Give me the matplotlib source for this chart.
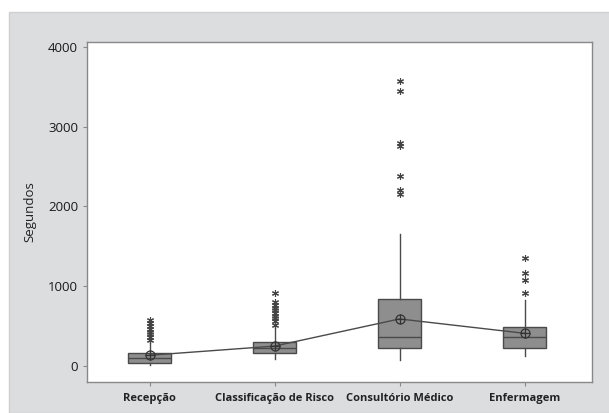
import matplotlib
matplotlib.use("Agg")
import matplotlib.pyplot as plt
from matplotlib.patches import Rectangle

plt.rcParams["font.family"] = ["Open Sans", "DejaVu Sans"]

# box statistics (seconds)
categories = ["Recepção", "Classificação de Risco", "Consultório Médico", "Enfermagem"]
q1 = [40, 160, 225, 225]
medians = [100, 230, 360, 360]
q3 = [160, 300, 840, 490]
whisker_lo = [10, 90, 75, 125]
whisker_hi = [300, 540, 1660, 825]
means = [135, 250, 590, 410]
outliers = [
    [330, 360, 400, 430, 470, 500, 540, 580],
    [510, 560, 600, 630, 660, 700, 730, 770, 800, 910],
    [2160, 2200, 2375, 2760, 2800, 3440, 3575],
    [910, 1075, 1160, 1350],
]

fig = plt.figure(figsize=(6.09, 4.13), dpi=100, facecolor="white")
# minitab-like grey panel behind the plot
fig.patches.append(Rectangle((9 / 609, 0), 1, 1 - 12 / 413, transform=fig.transFigure,
                             facecolor="#dcdddf", edgecolor="#cfcfcf", lw=1, zorder=-10))

ax = fig.add_axes([87 / 609, 1 - 382 / 413, 505 / 609, 340 / 413])
ax.set_zorder(1)
ax.set_facecolor("white")

stats = []
for i in range(len(categories)):
    stats.append({
        "q1": q1[i], "med": medians[i], "q3": q3[i],
        "whislo": whisker_lo[i], "whishi": whisker_hi[i],
        "fliers": outliers[i], "label": categories[i],
    })

pos = list(range(1, len(categories) + 1))
ax.bxp(stats, positions=pos, widths=0.34, patch_artist=True, showcaps=False,
       boxprops=dict(facecolor="#8e8e8e", edgecolor="#4a4a4a", lw=1),
       medianprops=dict(color="#4a4a4a", lw=1),
       whiskerprops=dict(color="#4a4a4a", lw=1),
       flierprops=dict(marker=(6, 2, 0), markersize=5, markeredgecolor="#444444",
                       markeredgewidth=0.8, linestyle="none"))

# mean connect line with circled-plus symbols
ax.plot(pos, means, color="#4a4a4a", lw=1, zorder=4)
ax.plot(pos, means, "o", ms=6.5, mfc="none", mec="#333333", mew=0.9, zorder=5)
ax.plot(pos, means, "+", ms=6.5, mec="#333333", mew=0.9, zorder=5)

ax.set_xlim(0.5, 4.54)
ax.set_ylim(-200, 4060)
ax.set_yticks([0, 1000, 2000, 3000, 4000])
ax.set_xticks(pos)
ax.set_xticklabels(categories, fontsize=8, fontweight="bold", color="#222222")
ax.tick_params(axis="y", labelsize=9.5, length=3, color="#888888", labelcolor="#1a1a1a")
ax.tick_params(axis="x", length=3, color="#888888", pad=5)
ax.set_ylabel("Segundos", fontsize=9.5, color="#222222", labelpad=8)

for s in ax.spines.values():
    s.set_color("#888888")
    s.set_linewidth(1)

fig.savefig("out.png", dpi=100)
